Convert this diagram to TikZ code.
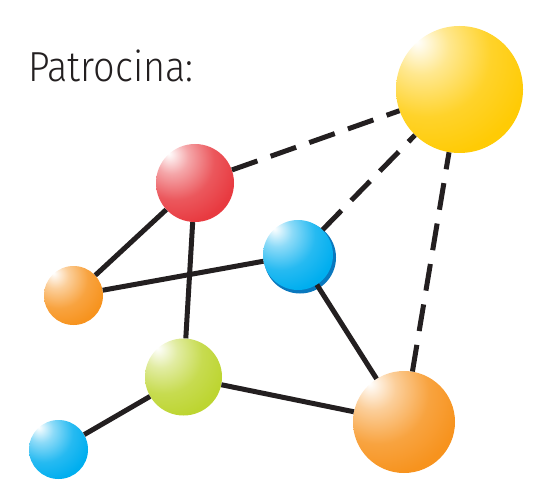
\documentclass[tikz,border=0pt]{standalone}
\usepackage{fontspec}
\setmainfont{Fira Sans}[UprightFont={* Light}, FakeStretch=0.9]

\definecolor{linegray}{HTML}{231F20}
\definecolor{ballyellow}{HTML}{FFCB05}
\definecolor{ballred}{HTML}{E83A40}
\definecolor{ballblue}{HTML}{00AEEF}
\definecolor{bluerim}{HTML}{0A78BE}
\definecolor{ballorange}{HTML}{F7931E}
\definecolor{ballgreen}{HTML}{BDD531}

\newcommand\ballshade[2]{%
  \pgfdeclareradialshading{#1}{\pgfpoint{-17bp}{19bp}}{%
    color(0bp)=(white); color(3bp)=(#2!12!white); color(11bp)=(#2!45!white);
    color(25bp)=(#2!85!white); color(38bp)=(#2); color(100bp)=(#2)}}
\ballshade{shyellow}{ballyellow}
\ballshade{shred}{ballred}
\ballshade{shblue}{ballblue}
\ballshade{shorange}{ballorange}
\ballshade{shgreen}{ballgreen}

\tikzset{
  ball/.style={circle, inner sep=0pt, draw=none},
  link/.style={line width=5pt, draw=linegray},
  dashlink/.style={link, dash pattern=on 27pt off 14pt}
}

\begin{document}
\begin{tikzpicture}[x=1pt, y=-1pt]
    \useasboundingbox (0,0) rectangle (537,494);

    % titulo
    \node[anchor=base west, inner sep=0pt, text=linegray,
          font=\fontsize{42}{50}\selectfont] (title) at (28,82) {Patrocina:};

    % esferas
    \node[ball, minimum size=127pt, shading=shyellow] (yellow) at (459.5,89.5) {};
    \node[ball, minimum size=78pt, shading=shred] (red) at (195,183) {};
    \fill[bluerim] (300,257.5) circle (36);
    \node[ball, minimum size=70pt, shading=shblue] (blueA) at (298,255) {};
    \node[ball, minimum size=59pt, shading=shorange] (orangeS) at (73.5,295.5) {};
    \node[ball, minimum size=77pt, shading=shgreen] (green) at (183.5,377) {};
    \node[ball, minimum size=102pt, shading=shorange] (orangeB) at (404,422) {};
    \node[ball, minimum size=59pt, shading=shblue] (blueB) at (58.5,449.5) {};

    % lineas continuas
    \draw[link] (red) -- (orangeS);
    \draw[link] (red) -- (green);
    \draw[link] (orangeS) -- (blueA);
    \draw[link] (blueA) -- (orangeB);
    \draw[link] (green) -- (orangeB);
    \draw[link] (green) -- (blueB);

    % lineas discontinuas
    \draw[dashlink] (red) -- (yellow);
    \draw[dashlink] (blueA) -- (yellow);
    \draw[dashlink] (orangeB) -- (yellow);
\end{tikzpicture}
\end{document}
